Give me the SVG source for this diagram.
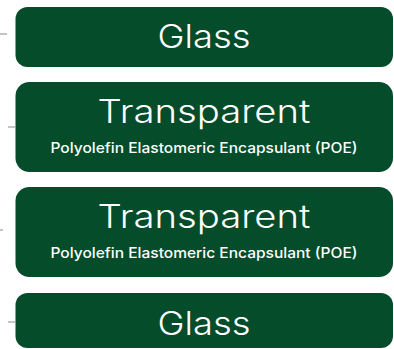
<svg xmlns="http://www.w3.org/2000/svg" width="394" height="349" viewBox="0 0 394 349">
<style>
.box{fill:#044c2a}
.t{fill:#ffffff;font-family:Inter,"Open Sans","Liberation Sans",sans-serif;text-anchor:middle}
.big{font-size:32px;font-weight:300}
.sub{font-size:14.5px;font-weight:500}
.tick{stroke:#c4c4c4;stroke-width:2}
</style>
<rect width="394" height="349" fill="#ffffff"/>
<g id="connectors">
<line class="tick" x1="0" y1="34" x2="7" y2="34"/>
<line class="tick" x1="8" y1="127" x2="15" y2="127"/>
<line class="tick" x1="0" y1="230" x2="3" y2="230"/>
<line class="tick" x1="8" y1="322" x2="15" y2="322"/>
</g>
<g id="glass-top">
<rect class="box" x="15.5" y="7" width="377.5" height="60" rx="12"/>
<text class="t big" x="204" y="47.5" textLength="93" lengthAdjust="spacingAndGlyphs">Glass</text>
</g>
<g id="poe-1">
<rect class="box" x="15.5" y="82" width="377.5" height="90" rx="14"/>
<text class="t big" x="204" y="122.5" textLength="213" lengthAdjust="spacingAndGlyphs">Transparent</text>
<text class="t sub" x="204" y="153" textLength="307" lengthAdjust="spacingAndGlyphs">Polyolefin Elastomeric Encapsulant (POE)</text>
</g>
<g id="poe-2">
<rect class="box" x="15.5" y="187" width="377.5" height="90" rx="14"/>
<text class="t big" x="204" y="227.5" textLength="213" lengthAdjust="spacingAndGlyphs">Transparent</text>
<text class="t sub" x="204" y="258" textLength="307" lengthAdjust="spacingAndGlyphs">Polyolefin Elastomeric Encapsulant (POE)</text>
</g>
<g id="glass-bottom">
<rect class="box" x="15.5" y="293" width="377.5" height="55" rx="12"/>
<text class="t big" x="204" y="334.5" textLength="93" lengthAdjust="spacingAndGlyphs">Glass</text>
</g>
</svg>
